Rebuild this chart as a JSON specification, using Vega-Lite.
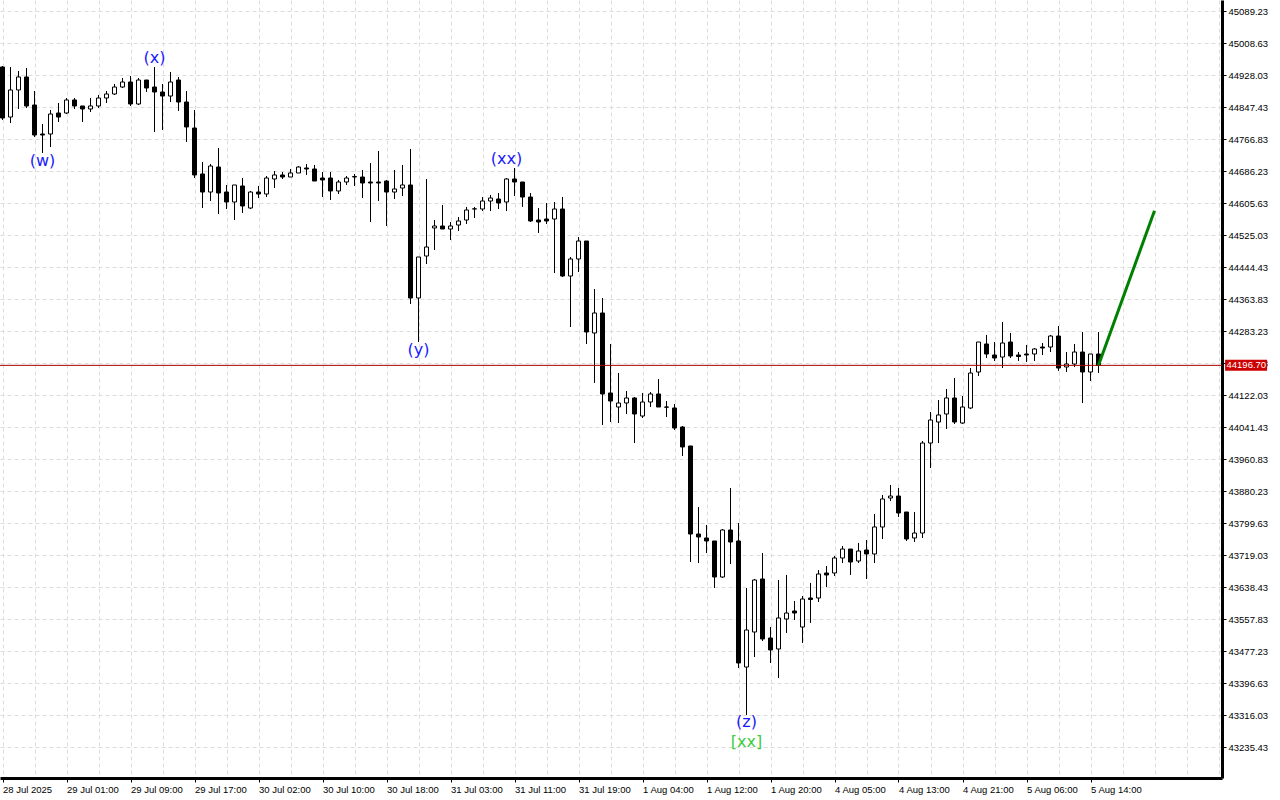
{
  "$schema": "https://vega.github.io/schema/vega-lite/v6.json",
  "width": 1222,
  "height": 778,
  "autosize": "none",
  "padding": {"left": 0, "top": 0, "right": 58, "bottom": 22},
  "background": "white",
  "config": {
    "view": {"stroke": null},
    "axis": {
      "title": null,
      "labelFont": "Liberation Sans",
      "labelFontSize": 9.5,
      "labelColor": "black",
      "labelPadding": 2,
      "labelOverlap": false,
      "labelFlush": false,
      "tickCount": 500,
      "tickSize": 4,
      "tickColor": "black",
      "domainColor": "black",
      "domainWidth": 3,
      "grid": true,
      "gridColor": "#dcdcdc",
      "gridDash": [4, 3],
      "gridWidth": 1
    }
  },
  "datasets": {
    "candles": [
      {"i":0,"o":44948.2,"h":44950.7,"l":44814.7,"c":44819.7},
      {"i":1,"o":44822.2,"h":44948.2,"l":44807.1,"c":44890.3},
      {"i":2,"o":44890.3,"h":44938.1,"l":44842.4,"c":44923.0},
      {"i":3,"o":44923.0,"h":44945.7,"l":44844.9,"c":44850.0},
      {"i":4,"o":44852.5,"h":44887.7,"l":44771.9,"c":44776.9},
      {"i":5,"o":44779.4,"h":44804.6,"l":44731.6,"c":44776.9},
      {"i":6,"o":44779.4,"h":44839.9,"l":44746.7,"c":44829.8},
      {"i":7,"o":44832.3,"h":44857.5,"l":44809.7,"c":44822.2},
      {"i":8,"o":44832.3,"h":44870.1,"l":44829.8,"c":44865.1},
      {"i":9,"o":44865.1,"h":44870.1,"l":44842.4,"c":44850.0},
      {"i":10,"o":44850.0,"h":44850.0,"l":44809.7,"c":44842.4},
      {"i":11,"o":44842.4,"h":44870.1,"l":44834.8,"c":44850.0},
      {"i":12,"o":44850.0,"h":44877.7,"l":44844.9,"c":44870.1},
      {"i":13,"o":44870.1,"h":44887.7,"l":44857.5,"c":44880.2},
      {"i":14,"o":44880.2,"h":44905.4,"l":44877.7,"c":44897.8},
      {"i":15,"o":44897.8,"h":44920.5,"l":44895.3,"c":44910.4},
      {"i":16,"o":44910.4,"h":44925.5,"l":44850.0,"c":44855.0},
      {"i":17,"o":44855.0,"h":44920.5,"l":44852.5,"c":44915.4},
      {"i":18,"o":44915.4,"h":44915.4,"l":44885.2,"c":44895.3},
      {"i":19,"o":44897.8,"h":44948.2,"l":44784.5,"c":44885.2},
      {"i":20,"o":44885.2,"h":44905.4,"l":44789.5,"c":44875.1},
      {"i":21,"o":44875.1,"h":44935.6,"l":44860.0,"c":44910.4},
      {"i":22,"o":44915.4,"h":44923.0,"l":44837.4,"c":44860.0},
      {"i":23,"o":44860.0,"h":44887.7,"l":44759.3,"c":44797.1},
      {"i":24,"o":44794.5,"h":44839.9,"l":44668.6,"c":44676.2},
      {"i":25,"o":44678.7,"h":44708.9,"l":44593.0,"c":44633.3},
      {"i":26,"o":44633.3,"h":44703.9,"l":44610.7,"c":44698.8},
      {"i":27,"o":44696.3,"h":44744.2,"l":44577.9,"c":44630.8},
      {"i":28,"o":44633.3,"h":44651.0,"l":44590.5,"c":44608.2},
      {"i":29,"o":44608.2,"h":44651.0,"l":44562.8,"c":44651.0},
      {"i":30,"o":44648.5,"h":44668.6,"l":44580.4,"c":44598.1},
      {"i":31,"o":44593.0,"h":44635.9,"l":44590.5,"c":44633.3},
      {"i":32,"o":44633.3,"h":44648.5,"l":44618.2,"c":44628.3},
      {"i":33,"o":44628.3,"h":44673.6,"l":44620.7,"c":44668.6},
      {"i":34,"o":44666.1,"h":44686.2,"l":44643.4,"c":44676.2},
      {"i":35,"o":44676.2,"h":44683.7,"l":44666.1,"c":44671.1},
      {"i":36,"o":44671.1,"h":44691.3,"l":44671.1,"c":44681.2},
      {"i":37,"o":44681.2,"h":44698.8,"l":44681.2,"c":44696.3},
      {"i":38,"o":44693.8,"h":44703.9,"l":44676.2,"c":44691.3},
      {"i":39,"o":44691.3,"h":44701.3,"l":44661.0,"c":44661.0},
      {"i":40,"o":44668.6,"h":44683.7,"l":44620.7,"c":44663.6},
      {"i":41,"o":44668.6,"h":44683.7,"l":44613.2,"c":44635.9},
      {"i":42,"o":44635.9,"h":44663.6,"l":44628.3,"c":44658.5},
      {"i":43,"o":44658.5,"h":44673.6,"l":44651.0,"c":44668.6},
      {"i":44,"o":44671.1,"h":44678.7,"l":44648.5,"c":44672.4},
      {"i":45,"o":44671.1,"h":44688.8,"l":44618.2,"c":44656.0},
      {"i":46,"o":44658.5,"h":44706.4,"l":44557.8,"c":44656.0},
      {"i":47,"o":44658.5,"h":44736.6,"l":44610.7,"c":44656.0},
      {"i":48,"o":44661.0,"h":44663.6,"l":44547.7,"c":44633.3},
      {"i":49,"o":44633.3,"h":44688.8,"l":44615.7,"c":44640.9},
      {"i":50,"o":44643.4,"h":44701.3,"l":44623.3,"c":44651.0},
      {"i":51,"o":44651.0,"h":44741.6,"l":44351.2,"c":44366.4},
      {"i":52,"o":44366.4,"h":44469.6,"l":44255.5,"c":44469.6},
      {"i":53,"o":44472.1,"h":44666.1,"l":44452.0,"c":44494.8},
      {"i":54,"o":44542.7,"h":44562.8,"l":44487.3,"c":44547.7},
      {"i":55,"o":44547.7,"h":44600.6,"l":44540.1,"c":44540.1},
      {"i":56,"o":44540.1,"h":44557.8,"l":44512.4,"c":44547.7},
      {"i":57,"o":44550.2,"h":44570.4,"l":44535.1,"c":44560.3},
      {"i":58,"o":44562.8,"h":44595.6,"l":44552.7,"c":44588.0},
      {"i":59,"o":44590.5,"h":44595.6,"l":44567.9,"c":44591.0},
      {"i":60,"o":44590.5,"h":44620.7,"l":44585.5,"c":44610.7},
      {"i":61,"o":44610.7,"h":44625.8,"l":44585.5,"c":44618.2},
      {"i":62,"o":44615.7,"h":44630.8,"l":44590.5,"c":44605.6},
      {"i":63,"o":44608.2,"h":44668.6,"l":44585.5,"c":44666.1},
      {"i":64,"o":44666.1,"h":44693.8,"l":44623.3,"c":44658.5},
      {"i":65,"o":44658.5,"h":44658.5,"l":44595.6,"c":44620.7},
      {"i":66,"o":44620.7,"h":44630.8,"l":44557.8,"c":44560.3},
      {"i":67,"o":44562.8,"h":44593.0,"l":44530.1,"c":44557.8},
      {"i":68,"o":44565.3,"h":44605.6,"l":44552.7,"c":44560.3},
      {"i":69,"o":44565.3,"h":44608.2,"l":44429.3,"c":44590.5},
      {"i":70,"o":44590.5,"h":44620.7,"l":44419.2,"c":44421.8},
      {"i":71,"o":44421.8,"h":44469.6,"l":44293.3,"c":44464.6},
      {"i":72,"o":44464.6,"h":44520.0,"l":44431.8,"c":44509.9},
      {"i":73,"o":44509.9,"h":44509.9,"l":44250.5,"c":44280.7},
      {"i":74,"o":44278.2,"h":44389.0,"l":44152.3,"c":44328.6},
      {"i":75,"o":44328.6,"h":44366.4,"l":44046.5,"c":44124.6},
      {"i":76,"o":44127.1,"h":44250.5,"l":44054.0,"c":44106.9},
      {"i":77,"o":44091.8,"h":44177.4,"l":44051.5,"c":44101.9},
      {"i":78,"o":44101.9,"h":44132.1,"l":44074.2,"c":44114.5},
      {"i":79,"o":44114.5,"h":44117.0,"l":44001.1,"c":44074.2},
      {"i":80,"o":44069.1,"h":44127.1,"l":44064.1,"c":44104.4},
      {"i":81,"o":44104.4,"h":44129.6,"l":44091.8,"c":44124.6},
      {"i":82,"o":44124.6,"h":44162.3,"l":44091.8,"c":44091.8},
      {"i":83,"o":44091.8,"h":44106.9,"l":44066.6,"c":44091.3},
      {"i":84,"o":44089.3,"h":44099.4,"l":44033.9,"c":44038.9},
      {"i":85,"o":44041.4,"h":44044.0,"l":43968.4,"c":43991.1},
      {"i":86,"o":43993.6,"h":43993.6,"l":43701.4,"c":43771.9},
      {"i":87,"o":43771.9,"h":43839.9,"l":43698.9,"c":43764.4},
      {"i":88,"o":43761.9,"h":43794.6,"l":43724.1,"c":43754.3},
      {"i":89,"o":43754.3,"h":43754.3,"l":43635.9,"c":43663.6},
      {"i":90,"o":43663.6,"h":43784.5,"l":43661.1,"c":43782.0},
      {"i":91,"o":43782.0,"h":43887.8,"l":43696.4,"c":43751.8},
      {"i":92,"o":43754.3,"h":43799.6,"l":43434.4,"c":43447.0},
      {"i":93,"o":43436.9,"h":43635.9,"l":43316.0,"c":43530.1},
      {"i":94,"o":43525.1,"h":43658.6,"l":43462.1,"c":43656.1},
      {"i":95,"o":43658.6,"h":43724.1,"l":43502.4,"c":43507.5},
      {"i":96,"o":43510.0,"h":43537.7,"l":43447.0,"c":43479.8},
      {"i":97,"o":43482.3,"h":43656.1,"l":43409.2,"c":43560.4},
      {"i":98,"o":43557.8,"h":43668.7,"l":43522.6,"c":43572.9},
      {"i":99,"o":43578.0,"h":43603.2,"l":43555.3,"c":43572.9},
      {"i":100,"o":43537.7,"h":43615.8,"l":43497.4,"c":43608.2},
      {"i":101,"o":43610.7,"h":43648.7,"l":43547.8,"c":43606.9},
      {"i":102,"o":43610.7,"h":43681.2,"l":43600.7,"c":43671.2},
      {"i":103,"o":43673.7,"h":43691.3,"l":43638.4,"c":43668.7},
      {"i":104,"o":43673.7,"h":43716.5,"l":43666.1,"c":43711.5},
      {"i":105,"o":43711.5,"h":43741.7,"l":43698.9,"c":43734.1},
      {"i":106,"o":43734.1,"h":43734.1,"l":43668.7,"c":43701.4},
      {"i":107,"o":43703.9,"h":43749.3,"l":43698.9,"c":43729.1},
      {"i":108,"o":43731.6,"h":43756.8,"l":43658.6,"c":43721.6},
      {"i":109,"o":43721.6,"h":43822.3,"l":43698.9,"c":43789.6},
      {"i":110,"o":43789.6,"h":43870.2,"l":43759.3,"c":43860.1},
      {"i":111,"o":43862.6,"h":43895.3,"l":43855.0,"c":43867.6},
      {"i":112,"o":43867.6,"h":43887.8,"l":43814.7,"c":43824.8},
      {"i":113,"o":43827.3,"h":43827.3,"l":43754.3,"c":43759.3},
      {"i":114,"o":43761.9,"h":43827.3,"l":43751.8,"c":43774.4},
      {"i":115,"o":43774.4,"h":44006.2,"l":43761.9,"c":44001.1},
      {"i":116,"o":44001.1,"h":44079.2,"l":43938.2,"c":44059.1},
      {"i":117,"o":44054.0,"h":44109.4,"l":44001.1,"c":44071.7},
      {"i":118,"o":44074.2,"h":44137.1,"l":44036.4,"c":44114.5},
      {"i":119,"o":44114.5,"h":44164.9,"l":44049.0,"c":44054.0},
      {"i":120,"o":44051.5,"h":44119.5,"l":44049.0,"c":44091.8},
      {"i":121,"o":44089.3,"h":44190.0,"l":44086.8,"c":44177.4},
      {"i":122,"o":44180.0,"h":44255.5,"l":44169.9,"c":44255.5},
      {"i":123,"o":44250.5,"h":44273.2,"l":44215.2,"c":44225.3},
      {"i":124,"o":44222.8,"h":44255.5,"l":44207.7,"c":44215.2},
      {"i":125,"o":44217.7,"h":44305.9,"l":44190.0,"c":44253.0},
      {"i":126,"o":44255.5,"h":44278.2,"l":44215.2,"c":44220.3},
      {"i":127,"o":44222.8,"h":44230.3,"l":44207.7,"c":44219.0},
      {"i":128,"o":44225.3,"h":44248.0,"l":44205.2,"c":44222.8},
      {"i":129,"o":44225.3,"h":44240.4,"l":44207.7,"c":44237.9},
      {"i":130,"o":44242.9,"h":44253.0,"l":44222.8,"c":44240.4},
      {"i":131,"o":44242.9,"h":44273.2,"l":44230.3,"c":44270.6},
      {"i":132,"o":44270.6,"h":44295.8,"l":44182.5,"c":44190.0},
      {"i":133,"o":44192.6,"h":44230.3,"l":44180.0,"c":44200.1},
      {"i":134,"o":44200.1,"h":44250.5,"l":44192.6,"c":44230.3},
      {"i":135,"o":44230.3,"h":44280.7,"l":44101.9,"c":44180.0},
      {"i":136,"o":44180.0,"h":44225.3,"l":44157.3,"c":44225.3},
      {"i":137,"o":44225.3,"h":44280.7,"l":44177.4,"c":44196.7}
    ],
    "waves": [
      {"i":5,"p":44711.4,"t":"(w)","g":"blue"},
      {"i":19,"p":44970.9,"t":"(x)","g":"blue"},
      {"i":52,"p":44235.4,"t":"(y)","g":"blue"},
      {"i":63,"p":44716.5,"t":"(xx)","g":"blue"},
      {"i":93,"p":43298.4,"t":"(z)","g":"blue"},
      {"i":93,"p":43248.0,"t":"[xx]","g":"green"}
    ],
    "forecast": [
      {"i":137,"p":44196.7},
      {"i":144,"p":44586.2}
    ],
    "last": [
      {"p":44196.7,"lbl":"44196.70"}
    ]
  },
  "layer": [
    {
      "data": {"name": "candles"},
      "mark": {"type": "rule", "color": "black", "strokeWidth": 1},
      "encoding": {
        "x": {
          "field": "i",
          "type": "quantitative",
          "scale": {"domain": [-0.3125, 152.4375], "nice": false, "zero": false, "padding": 0},
          "axis": {
            "orient": "bottom",
            "tickCount": 500,
            "values": [0,4,8,12,16,20,24,28,32,36,40,44,48,52,56,60,64,68,72,76,80,84,88,92,96,100,104,108,112,116,120,124,128,132,136,140,144,148,152],
            "labelExpr": "datum.value % 8 == 0 && datum.value <= 136 ? ['28 Jul 2025','29 Jul 01:00','29 Jul 09:00','29 Jul 17:00','30 Jul 02:00','30 Jul 10:00','30 Jul 18:00','31 Jul 03:00','31 Jul 11:00','31 Jul 19:00','1 Aug 04:00','1 Aug 12:00','1 Aug 20:00','4 Aug 05:00','4 Aug 13:00','4 Aug 21:00','5 Aug 06:00','5 Aug 14:00'][datum.value / 8] : ''",
            "labelAlign": "left",
            "labelBaseline": "top",
            "tickColor": {"condition": {"test": "datum.value % 8 == 0 && datum.value <= 136", "value": "black"}, "value": "transparent"}
          }
        },
        "y": {
          "field": "l",
          "type": "quantitative",
          "scale": {"domain": [43157.35, 45116.94], "nice": false, "zero": false},
          "axis": {
            "orient": "right",
            "tickCount": 500,
            "values": [45089.23,45008.63,44928.03,44847.43,44766.83,44686.23,44605.63,44525.03,44444.43,44363.83,44283.23,44202.63,44122.03,44041.43,43960.83,43880.23,43799.63,43719.03,43638.43,43557.83,43477.23,43396.63,43316.03,43235.43],
            "format": ".2f"
          }
        },
        "y2": {"field": "h"}
      }
    },
    {
      "data": {"name": "candles"},
      "mark": {"type": "bar", "width": 4, "stroke": "black", "strokeWidth": 1},
      "encoding": {
        "x": {"field": "i", "type": "quantitative"},
        "y": {"field": "o", "type": "quantitative"},
        "y2": {"field": "c"},
        "fill": {"condition": {"test": "datum.c >= datum.o", "value": "white"}, "value": "black"}
      }
    },
    {
      "data": {"name": "last"},
      "mark": {"type": "rule", "color": "#a80000", "strokeWidth": 1},
      "encoding": {
        "y": {"field": "p", "type": "quantitative"}
      }
    },
    {
      "data": {"name": "forecast"},
      "mark": {"type": "line", "color": "#008000", "strokeWidth": 3},
      "encoding": {
        "x": {"field": "i", "type": "quantitative"},
        "y": {"field": "p", "type": "quantitative"}
      }
    },
    {
      "data": {"name": "waves"},
      "mark": {"type": "text", "font": "DejaVu Sans", "fontSize": 16, "baseline": "middle", "align": "center"},
      "encoding": {
        "x": {"field": "i", "type": "quantitative"},
        "y": {"field": "p", "type": "quantitative"},
        "text": {"field": "t"},
        "color": {"field": "g", "type": "nominal", "scale": {"domain": ["blue", "green"], "range": ["#1a1aff", "#3ccc3c"]}, "legend": null}
      }
    },
    {
      "data": {"name": "last"},
      "mark": {"type": "tick", "orient": "horizontal", "color": "#cc0000", "size": 42, "thickness": 11, "opacity": 1},
      "encoding": {
        "x": {"datum": 155.45, "type": "quantitative"},
        "y": {"field": "p", "type": "quantitative"}
      }
    },
    {
      "data": {"name": "last"},
      "mark": {"type": "text", "color": "white", "font": "Liberation Sans", "fontSize": 9.5, "align": "left", "baseline": "middle"},
      "encoding": {
        "x": {"datum": 153.0, "type": "quantitative"},
        "y": {"field": "p", "type": "quantitative"},
        "text": {"field": "lbl"}
      }
    }
  ]
}
